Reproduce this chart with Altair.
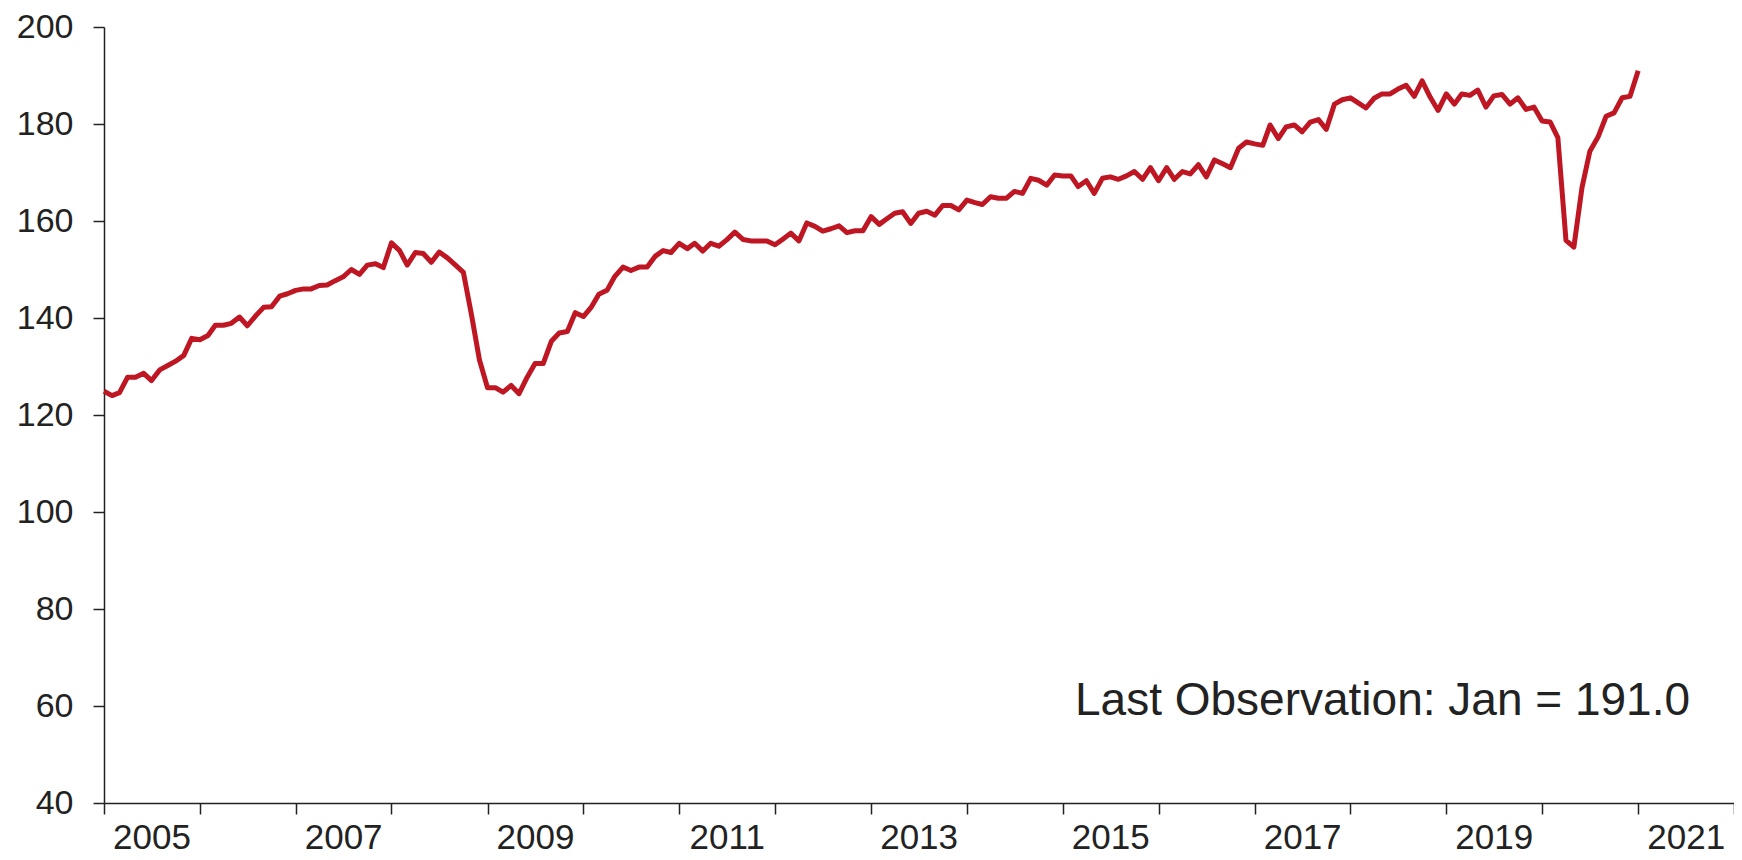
import altair as alt
import pandas as pd

# Monthly index values, Jan 2005 .. Jan 2021
v2005 = [124.9, 124.0, 124.6, 127.8, 127.8, 128.6, 127.1, 129.3, 130.2, 131.1, 132.3, 135.8]
v2006 = [135.5, 136.4, 138.5, 138.5, 138.9, 140.2, 138.4, 140.4, 142.2, 142.3, 144.5, 145.0]
v2007 = [145.7, 146.0, 146.0, 146.7, 146.8, 147.7, 148.5, 150.0, 149.0, 150.9, 151.2, 150.4]
v2008 = [155.5, 153.9, 150.9, 153.5, 153.3, 151.5, 153.6, 152.4, 150.9, 149.4, 140.6, 131.4]
v2009 = [125.6, 125.6, 124.7, 126.1, 124.4, 127.8, 130.6, 130.6, 135.2, 136.9, 137.2, 141.1]
v2010 = [140.3, 142.3, 144.9, 145.7, 148.6, 150.5, 149.8, 150.5, 150.5, 152.7, 153.9, 153.5]
v2011 = [155.4, 154.3, 155.4, 153.8, 155.4, 154.8, 156.1, 157.7, 156.2, 155.9, 155.9, 155.9]
v2012 = [155.1, 156.3, 157.5, 155.9, 159.6, 158.9, 157.9, 158.4, 159.0, 157.6, 158.0, 158.0]
v2013 = [160.9, 159.3, 160.4, 161.6, 161.9, 159.5, 161.6, 162.0, 161.2, 163.2, 163.2, 162.3]
v2014 = [164.3, 163.8, 163.4, 165.0, 164.7, 164.7, 166.1, 165.7, 168.8, 168.4, 167.4, 169.5]
v2015 = [169.3, 169.3, 167.1, 168.3, 165.7, 168.8, 169.1, 168.6, 169.3, 170.2, 168.6, 171.0]
v2016 = [168.3, 171.0, 168.6, 170.2, 169.7, 171.6, 169.1, 172.6, 171.8, 171.0, 175.0, 176.3]
v2017 = [175.9, 175.6, 179.8, 177.0, 179.4, 179.8, 178.4, 180.4, 180.9, 178.9, 184.1, 185.0]
v2018 = [185.4, 184.3, 183.3, 185.3, 186.2, 186.2, 187.2, 188.0, 185.7, 188.9, 185.5, 182.8]
v2019 = [186.2, 184.1, 186.2, 185.9, 187.0, 183.5, 185.8, 186.1, 184.1, 185.4, 183.0, 183.5]
v2020 = [180.6, 180.4, 177.2, 156.0, 154.6, 166.9, 174.4, 177.3, 181.6, 182.3, 185.4, 185.7]
v2021 = [191.0]

years_values = [v2005, v2006, v2007, v2008, v2009, v2010, v2011, v2012, v2013,
                v2014, v2015, v2016, v2017, v2018, v2019, v2020, v2021]

tick_years = list(range(2005, 2023))
label_years = list(range(2005, 2022, 2))
y_ticks = [40, 60, 80, 100, 120, 140, 160, 180, 200]
note = "Last Observation: Jan = 191.0"

values = [v for yr in years_values for v in yr]
dates = pd.date_range("2005-01-01", periods=len(values), freq="MS")
df = pd.DataFrame({"date": dates.strftime("%Y-%m-%dT00:00:00"), "value": values})

FONT = "Liberation Sans"
INK = "#222222"
RED = "#BE1622"

xscale = alt.Scale(domain=[alt.DateTime(year=2005, month=1, date=1),
                           alt.DateTime(year=2022, month=1, date=1)])
yscale = alt.Scale(domain=[40, 200], nice=False, zero=False)

yaxis = alt.Axis(values=y_ticks, title=None, grid=False, tickSize=11, labelPadding=20,
                 labelFont=FONT, labelFontSize=34, labelColor=INK,
                 domainColor=INK, tickColor=INK, domainWidth=1.5, tickWidth=1.5)

tick_axis = alt.Axis(values=[alt.DateTime(year=y, month=1, date=1) for y in tick_years],
                     labels=False, title=None, grid=False, tickSize=11,
                     domainColor=INK, tickColor=INK, domainWidth=1.5, tickWidth=1.5,
                     orient="bottom")

label_axis = alt.Axis(values=[alt.DateTime(year=y, month=7, date=1) for y in label_years],
                      format="%Y", title=None, grid=False, ticks=False, tickSize=0,
                      domain=False, labelPadding=17, labelFont=FONT, labelFontSize=35,
                      labelColor=INK, orient="bottom", labelOverlap=False)

line = alt.Chart(df).mark_line(color=RED, strokeWidth=5, strokeJoin="round").encode(
    x=alt.X("date:T", scale=xscale, axis=tick_axis),
    y=alt.Y("value:Q", scale=yscale, axis=yaxis),
)

labels = alt.Chart(df).mark_line(opacity=0).encode(
    x=alt.X("date:T", scale=xscale, axis=label_axis),
    y=alt.Y("value:Q", scale=yscale, axis=yaxis),
)

text = alt.Chart(pd.DataFrame({"t": [note]})).mark_text(
    align="left", baseline="alphabetic", font=FONT, fontSize=46, color=INK
).encode(x=alt.value(971), y=alt.value(688), text="t:N")

chart = alt.layer(line, labels, text).resolve_axis(x="independent").properties(
    width=1630, height=776,
    autosize=alt.AutoSizeParams(type="none"),
    padding={"left": 96, "top": 19, "right": 0, "bottom": 60},
).configure_view(stroke=None)

chart.save("out.html", embed_options={"renderer": "svg", "actions": False})
